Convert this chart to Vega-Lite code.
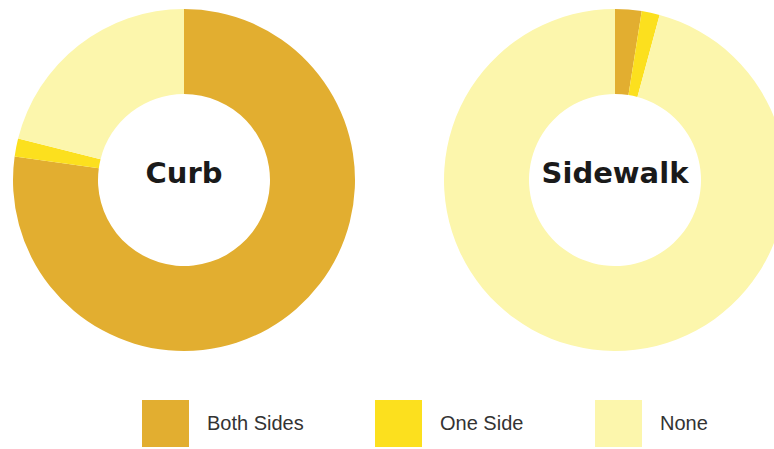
{
  "$schema": "https://vega.github.io/schema/vega-lite/v6.json",
  "width": 774,
  "height": 360,
  "autosize": {"type": "none"},
  "padding": {"top": 0, "left": 0, "right": 0, "bottom": 89},
  "background": "white",
  "config": {"view": {"stroke": null}},
  "datasets": {
    "slices": [
      {"chart": "Curb", "category": "Both Sides", "order": 1, "value": 77.2},
      {"chart": "Curb", "category": "One Side", "order": 2, "value": 1.7},
      {"chart": "Curb", "category": "None", "order": 3, "value": 21.1},
      {"chart": "Sidewalk", "category": "Both Sides", "order": 1, "value": 2.5},
      {"chart": "Sidewalk", "category": "One Side", "order": 2, "value": 1.7},
      {"chart": "Sidewalk", "category": "None", "order": 3, "value": 95.8}
    ],
    "labels": [
      {"chart": "Curb"},
      {"chart": "Sidewalk"}
    ]
  },
  "layer": [
    {
      "data": {"name": "slices"},
      "transform": [
        {"stack": "value", "groupby": ["chart"], "sort": [{"field": "order", "order": "ascending"}], "offset": "normalize", "as": ["v0", "v1"]}
      ],
      "mark": {"type": "arc", "radius": 171, "radius2": 86, "stroke": null},
      "encoding": {
        "x": {"field": "chart", "type": "nominal", "axis": null, "scale": {"type": "point", "domain": ["Curb", "Sidewalk"], "range": [184, 615], "padding": 0}},
        "theta": {"field": "v0", "type": "quantitative", "stack": null, "scale": {"domain": [0, 1]}},
        "theta2": {"field": "v1"},
        "color": {
          "field": "category",
          "type": "nominal",
          "scale": {"domain": ["Both Sides", "One Side", "None"], "range": ["#E2AE30", "#FCE01E", "#FCF6AC"]},
          "legend": {
            "orient": "none",
            "legendX": 142,
            "legendY": 400,
            "direction": "horizontal",
            "columns": 3,
            "title": null,
            "symbolType": "square",
            "symbolSize": 2209,
            "symbolStrokeWidth": 0,
            "symbolOpacity": 1,
            "labelFont": "Liberation Sans",
            "labelFontSize": 20,
            "labelColor": "#333333",
            "labelOffset": 18,
            "columnPadding": 71,
            "labelLimit": 300
          }
        }
      }
    },
    {
      "data": {"name": "labels"},
      "mark": {"type": "text", "font": "DejaVu Sans", "fontWeight": "bold", "fontSize": 29, "color": "#1a1a1a", "baseline": "middle", "align": "center", "dy": -6},
      "encoding": {
        "x": {"field": "chart", "type": "nominal", "axis": null},
        "text": {"field": "chart", "type": "nominal"}
      }
    }
  ]
}
